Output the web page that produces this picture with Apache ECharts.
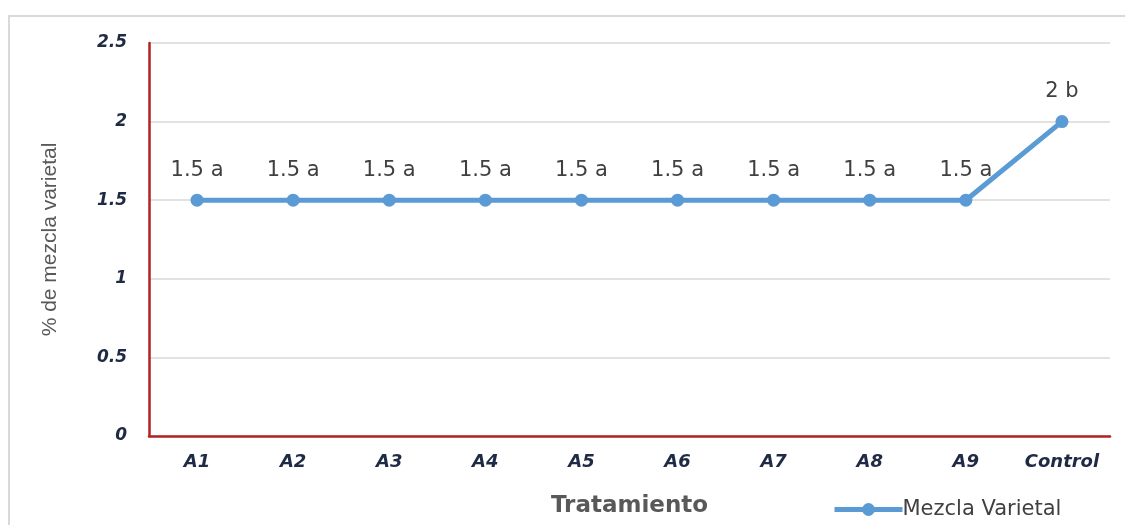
<!DOCTYPE html>
<html>
<head>
<meta charset="utf-8">
<script src="https://cdn.jsdelivr.net/npm/echarts@6/dist/echarts.min.js"></script>
<style>
  html, body { margin: 0; padding: 0; background: #fff; }
  #chart { width: 1125px; height: 525px; }
</style>
</head>
<body>
<div id="chart"></div>
<script>
// Tratamientos y porcentaje de mezcla varietal
const categories = ['A1', 'A2', 'A3', 'A4', 'A5', 'A6', 'A7', 'A8', 'A9', 'Control'];
const mezclaValues = [1.5, 1.5, 1.5, 1.5, 1.5, 1.5, 1.5, 1.5, 1.5, 2];
const significance = ['a', 'a', 'a', 'a', 'a', 'a', 'a', 'a', 'a', 'b'];
const yTicks = [0, 0.5, 1, 1.5, 2, 2.5];

const chart = echarts.init(document.getElementById('chart'));

const axisFont = {
  color: '#1f2a44',
  fontFamily: 'DejaVu Sans',
  fontWeight: 'bold',
  fontStyle: 'italic'
};

chart.setOption({
  animation: false,
  backgroundColor: '#ffffff',
  graphic: [
    {
      type: 'polyline',
      shape: { points: [[9, 525], [9, 16], [1125, 16]] },
      style: { stroke: '#d9d9d9', lineWidth: 2, fill: null },
      silent: true
    }
  ],
  grid: { left: 149, right: 15, top: 43, bottom: 89 },
  legend: {
    left: 827,
    top: 494,
    itemWidth: 68,
    itemHeight: 16,
    itemGap: 0,
    lineStyle: { width: 5 },
    textStyle: { color: '#404040', fontFamily: 'DejaVu Sans', fontSize: 21, padding: [0, 0, 0, -5] },
    data: ['Mezcla Varietal']
  },
  xAxis: {
    type: 'category',
    data: categories,
    boundaryGap: true,
    name: 'Tratamiento',
    nameLocation: 'middle',
    nameGap: 59,
    nameTextStyle: { color: '#595959', fontFamily: 'DejaVu Sans', fontWeight: 'bold', fontSize: 23 },
    axisLine: { lineStyle: { color: '#b22222', width: 2.5 } },
    axisTick: { show: false },
    axisLabel: Object.assign({ margin: 17, fontSize: 18, interval: 0 }, axisFont),
    splitLine: { show: false }
  },
  yAxis: {
    type: 'value',
    min: 0,
    max: 2.5,
    interval: 0.5,
    name: '% de mezcla varietal',
    nameLocation: 'middle',
    nameGap: 88,
    nameRotate: 90,
    nameTextStyle: { color: '#595959', fontFamily: 'Liberation Sans', fontSize: 21 },
    axisLine: { show: true, lineStyle: { color: '#b22222', width: 2.5 } },
    axisTick: { show: false },
    axisLabel: Object.assign({ margin: 22, fontSize: 17, formatter: v => (yTicks.includes(v) ? String(v) : '') }, axisFont),
    splitLine: { lineStyle: { color: '#d9d9d9', width: 1.5 } }
  },
  series: [
    {
      name: 'Mezcla Varietal',
      type: 'line',
      data: mezclaValues,
      symbol: 'circle',
      symbolSize: 13,
      itemStyle: { color: '#5b9bd5' },
      lineStyle: { color: '#5b9bd5', width: 5 },
      label: {
        show: true,
        position: 'top',
        distance: 13,
        color: '#404040',
        fontFamily: 'DejaVu Sans',
        fontSize: 21,
        formatter: p => p.value + ' ' + significance[p.dataIndex]
      }
    }
  ]
});
</script>
</body>
</html>
